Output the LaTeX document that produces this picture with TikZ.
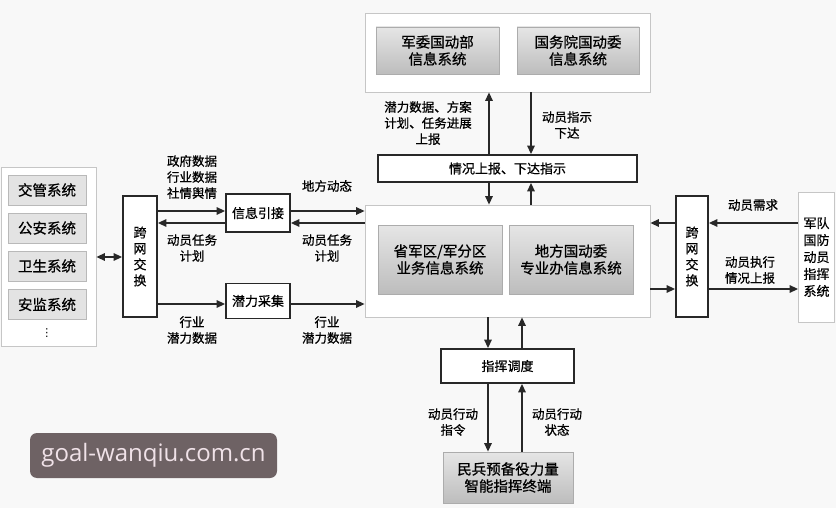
\documentclass[tikz,border=0pt]{standalone}
\usepackage{fontspec}
\setmainfont{Noto Sans CJK SC}[FakeBold=0.7]
\newfontfamily\wmfont{Open Sans}
\newfontfamily\symfont{DejaVu Sans}
\usetikzlibrary{positioning, arrows.meta}

\definecolor{bgcol}{RGB}{248,248,248}
\definecolor{linecol}{RGB}{40,40,40}
\definecolor{wmfill}{RGB}{110,98,100}
\definecolor{wmtext}{RGB}{240,226,232}

\begin{document}
\begin{tikzpicture}[x=1pt, y=-1pt, >={Triangle[length=8.5pt,width=7.5pt]},
        blk/.style={draw=linecol, line width=1.8pt, fill=white, align=center, inner sep=0pt,
            font=\fontsize{13}{16}\selectfont},
        pan/.style={draw=gray!45, line width=0.8pt, fill=white, inner sep=0pt},
        gbox/.style={draw=gray!65, line width=0.8pt, top color=gray!20, bottom color=gray!52,
            align=center, inner sep=0pt, font=\fontsize{14.5}{17}\selectfont},
        lbox/.style={draw=gray!55, line width=0.8pt, fill=gray!22, inner sep=0pt,
            minimum width=78pt, minimum height=30pt, font=\fontsize{14.5}{17}\selectfont},
        lab/.style={align=center, inner sep=0pt, font=\fontsize{12.5}{16}\selectfont},
        arr/.style={->, draw=linecol, line width=1.4pt}]
        \fill[bgcol] (0,0) rectangle (836,508);
        \useasboundingbox (0,0) rectangle (836,508);

        % left: other departments
        \node[pan, minimum width=95pt, minimum height=179pt] (lpan) at (48.5,256.5) {};
        \node[lbox] (jg) at (47,190) {交管系统};
        \node[lbox] (ga) at (47,228) {公安系统};
        \node[lbox] (ws) at (47,266) {卫生系统};
        \node[lbox] (aj) at (47,304.5) {安监系统};
        \node[inner sep=0pt, font=\symfont\fontsize{11}{12}\selectfont] (dots) at (47,333) {⋮};

        \node[blk, minimum width=34pt, minimum height=121pt] (jkL) at (140,256.5) {跨\\网\\交\\换};
        \node[blk, minimum width=64pt, minimum height=38pt] (xxyj) at (258,213) {信息引接};
        \node[blk, minimum width=64pt, minimum height=35pt] (qlcj) at (258,301) {潜力采集};

        % center
        \node[pan, minimum width=285pt, minimum height=112pt] (cpan) at (507.5,261) {};
        \node[gbox, minimum width=124pt, minimum height=69pt] (sjq) at (440,259.5) {省军区/军分区\\业务信息系统};
        \node[gbox, minimum width=124pt, minimum height=69pt] (dfgdw) at (571,259.5) {地方国动委\\专业办信息系统};

        % top
        \node[pan, minimum width=285pt, minimum height=79pt] (tpan) at (507.5,52.5) {};
        \node[gbox, minimum width=123pt, minimum height=47pt] (jwgdb) at (437.5,50.5) {军委国动部\\信息系统};
        \node[gbox, minimum width=122pt, minimum height=47pt] (gwygdw) at (578,50.5) {国务院国动委\\信息系统};
        \node[blk, minimum width=259pt, minimum height=27pt] (qksb) at (507.5,168.5) {情况上报、下达指示};

        % bottom
        \node[blk, minimum width=133pt, minimum height=34pt] (zhdd) at (507.5,366) {指挥调度};
        \node[gbox, minimum width=130pt, minimum height=51pt] (mbzd) at (508,477.5) {民兵预备役力量\\智能指挥终端};

        % right
        \node[blk, minimum width=32pt, minimum height=121pt] (jkR) at (692,256.5) {跨\\网\\交\\换};
        \node[pan, minimum width=36pt, minimum height=130pt, font=\fontsize{13}{17}\selectfont, align=center]
            (jdxt) at (816.5,257) {军队\\国防\\动员\\指挥\\系统};

        % connectors, left side
        \draw[arr, <->] (lpan.east |- 0,257) -- (jkL.west |- 0,257);
        \draw[arr] (jkL.east |- 0,211) -- (xxyj.west |- 0,211);
        \draw[arr] (xxyj.west |- 0,223) -- (jkL.east |- 0,223);
        \draw[arr] (jkL.east |- 0,304) -- (qlcj.west |- 0,304);
        \draw[arr] (xxyj.east |- 0,211) -- (cpan.west |- 0,211);
        \draw[arr] (cpan.west |- 0,223) -- (xxyj.east |- 0,223);
        \draw[arr] (qlcj.east |- 0,304) -- (cpan.west |- 0,304);

        \node[lab] (lzf) at (192,177) {政府数据\\行业数据\\社情舆情};
        \node[lab] (lrw1) at (192,248) {动员任务\\计划};
        \node[lab] (lhy1) at (192,330) {行业\\潜力数据};
        \node[lab] (ldf) at (327,186) {地方动态};
        \node[lab] (lrw2) at (327,248) {动员任务\\计划};
        \node[lab] (lhy2) at (327,330) {行业\\潜力数据};

        % connectors, top
        \draw[arr] (qksb.north -| 489,0) -- (tpan.south -| 489,0);
        \draw[arr] (tpan.south -| 531,0) -- (qksb.north -| 531,0);
        \draw[arr] (qksb.south -| 489,0) -- (cpan.north -| 489,0);
        \draw[arr] (cpan.north -| 531,0) -- (qksb.south -| 531,0);
        \node[lab] (lql) at (428,123) {潜力数据、方案\\计划、任务进展\\上报};
        \node[lab] (lzs) at (567,125) {动员指示\\下达};

        % connectors, bottom
        \draw[arr] (cpan.south -| 488,0) -- (zhdd.north -| 488,0);
        \draw[arr] (zhdd.north -| 522,0) -- (cpan.south -| 522,0);
        \draw[arr] (zhdd.south -| 488,0) -- (mbzd.north -| 488,0);
        \draw[arr] (mbzd.north -| 522,0) -- (zhdd.south -| 522,0);
        \node[lab] (lzl) at (453,422) {动员行动\\指令};
        \node[lab] (lzt) at (557,422) {动员行动\\状态};

        % connectors, right side
        \draw[arr] (jdxt.west |- 0,223) -- (jkR.east |- 0,223);
        \draw[arr] (jkR.west |- 0,223) -- (cpan.east |- 0,223);
        \draw[arr] (cpan.east |- 0,289) -- (jkR.west |- 0,289);
        \draw[arr] (jkR.east |- 0,289) -- (jdxt.west |- 0,289);
        \node[lab] (lxq) at (753,205) {动员需求};
        \node[lab] (lzx) at (750,270) {动员执行\\情况上报};

        % watermark
        \node[fill=wmfill, rounded corners=7pt, minimum width=247pt, minimum height=45pt,
            text=wmtext, font=\wmfont\fontsize{24}{26}\selectfont] (wm) at (153.5,455.5) {goal-wanqiu.com.cn};
    \end{tikzpicture}
\end{document}
